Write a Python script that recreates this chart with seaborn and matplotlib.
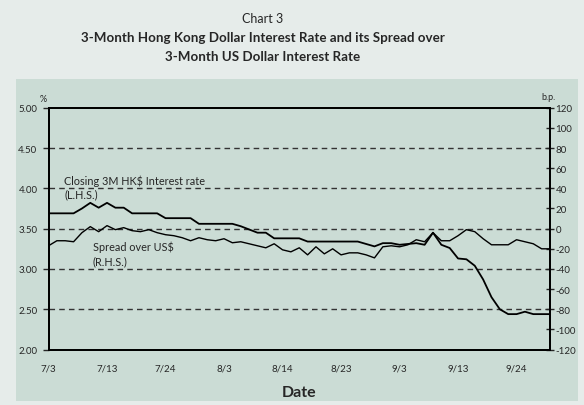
import numpy as np
import pandas as pd
import seaborn as sns
import matplotlib.pyplot as plt
from matplotlib.patches import Rectangle

# Data (trading days, 7/3 to end of Sept)
hk_rate = [3.69, 3.69, 3.69, 3.69, 3.75, 3.82, 3.76, 3.82, 3.76, 3.76,
           3.69, 3.69, 3.69, 3.69, 3.63, 3.63, 3.63, 3.63, 3.56, 3.56,
           3.56, 3.56, 3.56, 3.53, 3.49, 3.45, 3.45, 3.38, 3.38, 3.38,
           3.38, 3.34, 3.34, 3.34, 3.34, 3.34, 3.34, 3.34, 3.31, 3.28,
           3.32, 3.32, 3.30, 3.31, 3.32, 3.30, 3.45, 3.30, 3.26, 3.13,
           3.12, 3.04, 2.87, 2.65, 2.50, 2.44, 2.44, 2.47, 2.44, 2.44,
           2.44]
spread_bp = [-17, -12, -12, -13, -4, 2, -3, 3, -1, 1,
             -2, -3, -1, -4, -6, -7, -9, -12, -9, -11,
             -12, -10, -14, -13, -15, -17, -19, -15, -21, -23,
             -19, -26, -18, -25, -20, -26, -24, -24, -26, -29,
             -18, -17, -18, -16, -11, -13, -4, -12, -12, -7,
             -1, -3, -10, -16, -16, -16, -11, -13, -15, -20,
             -20]
tick_labels = ['7/3', '7/13', '7/24', '8/3', '8/14', '8/23', '9/3', '9/13', '9/24']
tick_step = 7

df = pd.DataFrame({'idx': np.arange(len(hk_rate)), 'hk': hk_rate, 'spread': spread_bp})

sns.set_style('white')
plt.rcParams['font.family'] = ['Lato', 'DejaVu Sans']

fig = plt.figure(figsize=(5.84, 4.06), dpi=100)
fig.patch.set_facecolor('#e6ecea')
panel_col = '#cbdcd5'
fig.patches.append(Rectangle((16 / 584, 1 - 402 / 406), 562 / 584, 322 / 406,
                             transform=fig.transFigure, facecolor=panel_col,
                             edgecolor='none', zorder=-10))

ax = fig.add_axes([48.5 / 584, 1 - 350.6 / 406, 501.5 / 584, 241.9 / 406])
ax.set_facecolor(panel_col)

sns.lineplot(data=df, x='idx', y='hk', ax=ax, color='black', linewidth=1.3)
ax.set_xlim(0, len(hk_rate) - 1)
ax.set_ylim(2.0, 5.0)
ax.set_yticks(np.arange(2.0, 5.01, 0.5))
ax.set_yticklabels([f'{v:.2f}' for v in np.arange(2.0, 5.01, 0.5)], fontsize=7)
ax.set_xticks(np.arange(0, len(tick_labels) * tick_step, tick_step))
ax.set_xticklabels(tick_labels, fontsize=7)
ax.set_xlabel('Date', fontsize=11.5, fontweight='bold', labelpad=9)
ax.set_ylabel('')
ax.tick_params(axis='y', direction='out', length=4, width=1, pad=4)
ax.tick_params(axis='x', direction='out', length=3, width=1, pad=7)
for v in [2.5, 3.0, 3.5, 4.0, 4.5]:
    ax.axhline(v, color='#333333', linestyle=(0, (4, 3)), linewidth=1, zorder=1)
for s in ax.spines.values():
    s.set_color('black')
    s.set_linewidth(1.3)

ax2 = ax.twinx()
sns.lineplot(data=df, x='idx', y='spread', ax=ax2, color='black', linewidth=1.0)
ax2.set_ylim(-120, 120)
ax2.set_yticks(np.arange(-120, 121, 20))
ax2.set_yticklabels([str(v) for v in range(-120, 121, 20)], fontsize=7)
ax2.set_ylabel('')
ax2.tick_params(axis='y', direction='inout', length=6, width=1, pad=1)
for s in ax2.spines.values():
    s.set_color('black')
    s.set_linewidth(1.3)

# labels on the plot
ax.text(0.031, 0.724, 'Closing 3M HK$ Interest rate\n(L.H.S.)', transform=ax.transAxes,
        fontsize=7.8, va='top', ha='left', linespacing=1.3)
ax.text(0.088, 0.449, 'Spread over US$\n(R.H.S.)', transform=ax.transAxes,
        fontsize=7.8, va='top', ha='left', linespacing=1.35)
fig.text(43 / 584, 1 - 99 / 406, '%', fontsize=6.5, ha='center', va='center')
fig.text(549 / 584, 1 - 97 / 406, 'b.p.', fontsize=6.5, ha='center', va='center')

title_x = 263 / 584
fig.text(title_x, 1 - 19 / 406, 'Chart 3', fontsize=9, ha='center', va='center')
fig.text(title_x, 1 - 38 / 406, '3-Month Hong Kong Dollar Interest Rate and its Spread over',
         fontsize=9.6, fontweight='bold', ha='center', va='center')
fig.text(title_x, 1 - 57 / 406, '3-Month US Dollar Interest Rate',
         fontsize=9.6, fontweight='bold', ha='center', va='center')

fig.savefig('out.png', dpi=100, facecolor=fig.get_facecolor())
